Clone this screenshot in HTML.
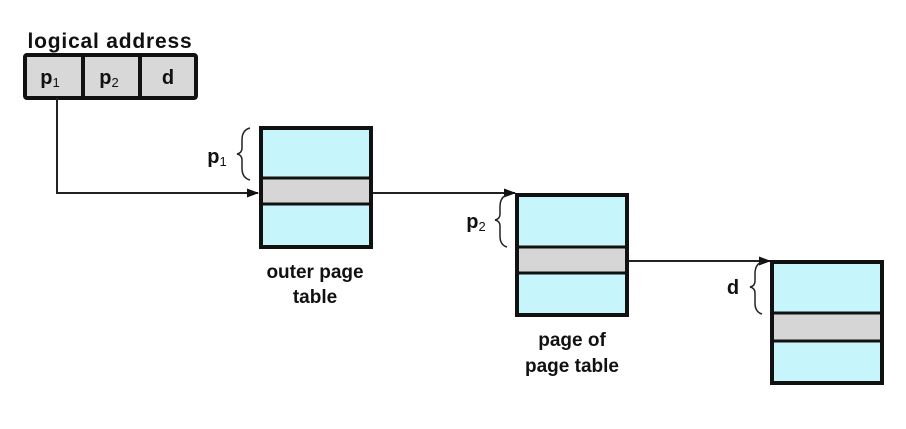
<!DOCTYPE html>
<html><head><meta charset="utf-8">
<style>
html,body{margin:0;padding:0;background:#fff;}
svg{display:block;}
text{font-family:"Liberation Sans",sans-serif;font-weight:bold;fill:#111;}
</style></head>
<body>
<svg width="906" height="429" viewBox="0 0 906 429">
<defs>
<marker id="ah" markerWidth="12" markerHeight="12" refX="11" refY="6" orient="auto" markerUnits="userSpaceOnUse">
<path d="M0,1.5 L12,6 L0,10.5 Z" fill="#111"/>
</marker>
</defs>

<text x="110" y="48" font-size="21" letter-spacing="0.8" text-anchor="middle">logical address</text>
<g>
<rect x="25" y="55" width="171" height="43" fill="#d8d8d8" stroke="#111" stroke-width="4" rx="2"/>
<line x1="83" y1="55" x2="83" y2="98" stroke="#111" stroke-width="4"/>
<line x1="140" y1="55" x2="140" y2="98" stroke="#111" stroke-width="4"/>
<text x="50" y="84" font-size="20" text-anchor="middle">p<tspan font-size="13" dy="3" font-weight="normal">1</tspan></text>
<text x="109" y="84" font-size="20" text-anchor="middle">p<tspan font-size="13" dy="3" font-weight="normal">2</tspan></text>
<text x="168" y="84" font-size="20" text-anchor="middle">d</text>
</g>

<polyline points="57,98 57,193 258,193" fill="none" stroke="#222" stroke-width="2" marker-end="url(#ah)"/>
<line x1="373" y1="193" x2="515" y2="193" stroke="#222" stroke-width="2" marker-end="url(#ah)"/>
<line x1="628" y1="261" x2="770" y2="261" stroke="#222" stroke-width="2" marker-end="url(#ah)"/>

<g>
<rect x="261" y="128" width="110" height="119" fill="#c6f6fb" stroke="#111" stroke-width="4"/>
<rect x="263" y="178" width="106" height="25" fill="#d6d6d6"/>
<line x1="261" y1="178" x2="371" y2="178" stroke="#111" stroke-width="3"/>
<line x1="261" y1="204" x2="371" y2="204" stroke="#111" stroke-width="3"/>
</g>
<path d="M250,128 Q242,130 242,140 L242,148 Q242,153 237,154 Q242,155 242,160 L242,168 Q242,178 250,180" fill="none" stroke="#222" stroke-width="1.5"/>
<text x="217" y="163" font-size="20" text-anchor="middle">p<tspan font-size="13" dy="3" font-weight="normal">1</tspan></text>
<text x="315" y="278" font-size="19" text-anchor="middle">outer page</text>
<text x="315" y="303" font-size="19" text-anchor="middle">table</text>

<g>
<rect x="517" y="195" width="110" height="120" fill="#c6f6fb" stroke="#111" stroke-width="4"/>
<rect x="519" y="247" width="106" height="25" fill="#d6d6d6"/>
<line x1="517" y1="247" x2="627" y2="247" stroke="#111" stroke-width="3"/>
<line x1="517" y1="273" x2="627" y2="273" stroke="#111" stroke-width="3"/>
</g>
<path d="M507,195 Q500,197 500,207 L500,214 Q500,219 495,220 Q500,221 500,226 L500,236 Q500,245 507,247" fill="none" stroke="#222" stroke-width="1.5"/>
<text x="476" y="228" font-size="20" text-anchor="middle">p<tspan font-size="13" dy="3" font-weight="normal">2</tspan></text>
<text x="572" y="346" font-size="19" text-anchor="middle">page of</text>
<text x="572" y="372" font-size="19" text-anchor="middle">page table</text>

<g>
<rect x="772" y="262" width="110" height="121" fill="#c6f6fb" stroke="#111" stroke-width="4"/>
<rect x="774" y="313" width="106" height="27" fill="#d6d6d6"/>
<line x1="772" y1="313" x2="882" y2="313" stroke="#111" stroke-width="3"/>
<line x1="772" y1="341" x2="882" y2="341" stroke="#111" stroke-width="3"/>
</g>
<path d="M762,262 Q755,264 755,274 L755,281 Q755,286 750,287 Q755,288 755,293 L755,303 Q755,312 762,314" fill="none" stroke="#222" stroke-width="1.5"/>
<text x="733" y="294" font-size="20" text-anchor="middle">d</text>
</svg>
</body></html>
